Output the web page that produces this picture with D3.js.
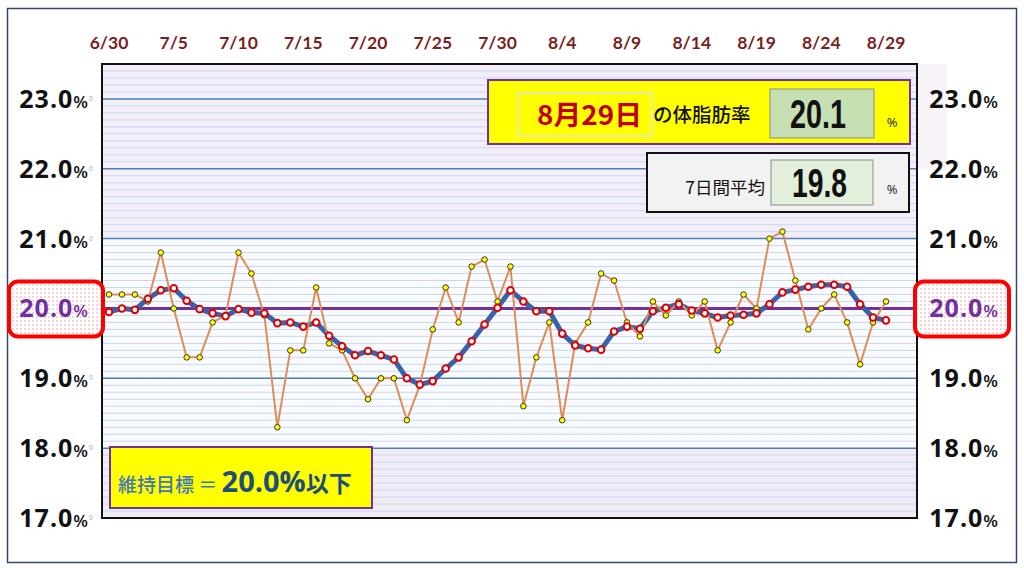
<!DOCTYPE html>
<html>
<head>
<meta charset="utf-8">
<script src="https://cdn.jsdelivr.net/npm/d3@7"></script>
<style>
  body { margin: 0; background: #fff; }
  svg { display: block; }
</style>
</head>
<body>
<svg id="chart" width="1024" height="568"></svg>
<script>
// ---- data ----
const startDate = [2021, 5, 30];   // 6/30
const dailyFat = [
  20.2, 20.2, 20.2, 20.1, 20.8, 20.0, 19.3, 19.3, 19.8, 19.9,
  20.8, 20.5, 19.9, 18.3, 19.4, 19.4, 20.3, 19.5, 19.4, 19.0,
  18.7, 19.0, 19.0, 18.4, 18.9, 19.7, 20.3, 19.8, 20.6, 20.7,
  20.1, 20.6, 18.6, 19.3, 19.8, 18.4, 19.5, 19.8, 20.5, 20.4,
  19.8, 19.6, 20.1, 19.9, 20.1, 19.9, 20.1, 19.4, 19.8, 20.2,
  20.0, 21.0, 21.1, 20.4, 19.7, 20.0, 20.2, 19.8, 19.2, 19.8,
  20.1
];
const weekAvg = [
  19.95, 20.00, 19.98, 20.14, 20.26, 20.29, 20.11, 19.99, 19.93, 19.89,
  19.99, 19.94, 19.93, 19.79, 19.80, 19.74, 19.80, 19.61, 19.46, 19.33,
  19.39, 19.33, 19.27, 19.00, 18.91, 18.96, 19.14, 19.30, 19.53, 19.77,
  20.01, 20.26, 20.10, 19.96, 19.96, 19.64, 19.47, 19.43, 19.41, 19.67,
  19.74, 19.71, 19.96, 20.01, 20.06, 19.97, 19.93, 19.87, 19.90, 19.91,
  19.93, 20.06, 20.23, 20.27, 20.31, 20.34, 20.34, 20.31, 20.06, 19.87,
  19.83
];
const dateTicks = ["6/30", "7/5", "7/10", "7/15", "7/20", "7/25", "7/30",
                   "8/4", "8/9", "8/14", "8/19", "8/24", "8/29"];
const yTicks = [23, 22, 21, 20, 19, 18, 17];
const goal = 20.0;

// ---- layout ----
const svg = d3.select("#chart");
const plot = { left: 102, right: 917, top: 64, bottom: 518 };

const day0 = new Date(startDate[0], startDate[1], startDate[2]);
const dates = dailyFat.map((d, i) => d3.timeDay.offset(day0, i));
const parseTick = s => { const [m, d] = s.split("/").map(Number); return new Date(startDate[0], m - 1, d); };

const x = d3.scaleTime()
  .domain(d3.extent(dates))
  .range([109, 886]);
const y = d3.scaleLinear()
  .domain([17, 23.5])
  .range([plot.bottom, plot.top]);

const defs = svg.append("defs");
const dots = defs.append("pattern").attr("id", "pinkdots")
  .attr("width", 4).attr("height", 4).attr("patternUnits", "userSpaceOnUse");
dots.append("rect").attr("width", 4).attr("height", 4).attr("fill", "#fff");
dots.append("circle").attr("cx", 1).attr("cy", 1).attr("r", 0.7).attr("fill", "#f08a8a");

// outer frame
svg.append("rect").attr("x", 7.5).attr("y", 8.5).attr("width", 1009).attr("height", 554)
  .attr("fill", "#fff").attr("stroke", "#34486b").attr("stroke-width", 1.5);

// pale strip right of the plot, behind the first info box
svg.append("rect").attr("x", plot.right).attr("y", plot.top).attr("width", 30).attr("height", y(22) - plot.top)
  .attr("fill", "#f8f2f9");

// plot background zones
const W = plot.right - plot.left;
svg.append("rect").attr("x", plot.left).attr("y", plot.top).attr("width", W).attr("height", plot.bottom - plot.top)
  .attr("fill", "#fafbfe");
svg.append("rect").attr("x", plot.left).attr("y", plot.top).attr("width", W).attr("height", y(21) - plot.top)
  .attr("fill", "#f3eef8");
svg.append("rect").attr("x", plot.left).attr("y", y(18)).attr("width", W).attr("height", plot.bottom - y(18))
  .attr("fill", "#f1ebf6");

// minor gridlines every 0.1
const minor = d3.range(170, 236).map(v => v / 10).filter(v => Math.abs(v - Math.round(v)) > 0.01);
svg.append("g").selectAll("line").data(minor).join("line")
  .attr("x1", plot.left).attr("x2", plot.right)
  .attr("y1", d => y(d)).attr("y2", d => y(d))
  .attr("stroke", "#c6d8ef").attr("stroke-width", 1);

// major gridlines
svg.append("g").selectAll("line").data(yTicks.filter(v => v > 17 && v !== goal)).join("line")
  .attr("x1", plot.left).attr("x2", plot.right)
  .attr("y1", d => y(d)).attr("y2", d => y(d))
  .attr("stroke", "#4a7ebb").attr("stroke-width", 1.5);

// goal line
svg.append("line")
  .attr("x1", plot.left).attr("x2", plot.right)
  .attr("y1", y(goal)).attr("y2", y(goal))
  .attr("stroke", "#7030a0").attr("stroke-width", 3);

// plot border
svg.append("rect").attr("x", plot.left).attr("y", plot.top).attr("width", W).attr("height", plot.bottom - plot.top)
  .attr("fill", "none").attr("stroke", "#111").attr("stroke-width", 2);

// date labels along the top
svg.append("g").selectAll("text").data(dateTicks).join("text")
  .attr("x", d => x(parseTick(d)))
  .attr("y", 49)
  .attr("text-anchor", "middle")
  .attr("font-family", "Lato, 'Open Sans', sans-serif")
  .attr("font-weight", 700).attr("font-size", 17.5)
  .attr("fill", "#7a1f1f")
  .text(d => d);

// y labels, both sides
const fmt = d3.format(".1f");
["left", "right"].forEach(side => {
  const g = svg.append("g");
  yTicks.forEach(v => {
    if (v === goal) {
      const bx = side === "left" ? 9 : 915;
      g.append("rect").attr("x", bx).attr("y", y(goal) - 27).attr("width", 94).attr("height", 55)
        .attr("rx", 9).attr("fill", "url(#pinkdots)").attr("stroke", "#ff0000").attr("stroke-width", 4);
    }
    const t = g.append("text")
      .attr("x", side === "left" ? 88 : 998)
      .attr("y", y(v) + 9)
      .attr("text-anchor", "end")
      .attr("font-family", "'Open Sans', sans-serif")
      .attr("fill", v === goal ? "#7030a0" : "#111");
    t.append("tspan").attr("font-size", 25).attr("font-weight", 700).attr("letter-spacing", 1).text(fmt(v));
    t.append("tspan").attr("font-size", 17).attr("font-weight", 600).text("%");
    if (side === "left" && v !== goal) {
      g.append("text").attr("x", 89).attr("y", y(v) + 2).attr("font-size", 7)
        .attr("font-family", "'Open Sans', sans-serif").attr("fill", "#aaa").text("0");
    }
  });
});

// series
const pts = (arr) => arr.map((v, i) => [x(dates[i]), y(v)]);
const line = d3.line();

svg.append("path").attr("d", line(pts(weekAvg)))
  .attr("fill", "none").attr("stroke", "#3a62ab").attr("stroke-width", 5)
  .attr("stroke-linejoin", "round").attr("stroke-linecap", "round");

svg.append("path").attr("d", line(pts(dailyFat)))
  .attr("fill", "none").attr("stroke", "#e08c55").attr("stroke-width", 2)
  .attr("stroke-linejoin", "round");

svg.append("g").selectAll("circle").data(dailyFat).join("circle")
  .attr("cx", (d, i) => x(dates[i])).attr("cy", d => y(d))
  .attr("r", 2.8).attr("fill", "#ffff00").attr("stroke", "#333").attr("stroke-width", 1);

svg.append("g").selectAll("circle").data(weekAvg).join("circle")
  .attr("cx", (d, i) => x(dates[i])).attr("cy", d => y(d))
  .attr("r", 3.3).attr("fill", "#fff").attr("stroke", "#e00000").attr("stroke-width", 2);

// ---- info boxes ----
const last = dailyFat.length - 1;
const jp = "'Noto Sans CJK JP', sans-serif";
const num = "'Liberation Sans', Arial, sans-serif";

const b1 = svg.append("g");
b1.append("rect").attr("x", 488).attr("y", 80).attr("width", 422).attr("height", 64)
  .attr("fill", "#ffff00").attr("stroke", "#7030a0").attr("stroke-width", 2);
b1.append("rect").attr("x", 518).attr("y", 93).attr("width", 134).attr("height", 43)
  .attr("fill", "#ffff00").attr("stroke", "#dde3e8").attr("stroke-width", 1.5);
b1.append("text").attr("x", 537).attr("y", 125)
  .attr("font-family", jp).attr("font-weight", 700).attr("font-size", 27).attr("fill", "#c00000")
  .attr("textLength", 105).attr("lengthAdjust", "spacingAndGlyphs")
  .text(d3.timeFormat("%-m月%-d日")(dates[last]));
b1.append("text").attr("x", 653).attr("y", 122)
  .attr("font-family", jp).attr("font-weight", 500).attr("font-size", 19.5).attr("fill", "#111")
  .text("の体脂肪率");
b1.append("rect").attr("x", 770).attr("y", 89).attr("width", 104).attr("height", 49)
  .attr("fill", "#c6e0b4").attr("stroke", "#8c8c8c").attr("stroke-width", 1);
b1.append("text").attr("x", 790).attr("y", 128)
  .attr("font-family", num).attr("font-weight", 700).attr("font-size", 40).attr("fill", "#111")
  .attr("textLength", 56).attr("lengthAdjust", "spacingAndGlyphs")
  .text(fmt(dailyFat[last]));
b1.append("text").attr("x", 892).attr("y", 127).attr("text-anchor", "middle")
  .attr("font-family", "'Open Sans', sans-serif").attr("font-size", 13).attr("fill", "#222").text("%");

const b2 = svg.append("g");
b2.append("rect").attr("x", 647).attr("y", 153).attr("width", 262).attr("height", 59)
  .attr("fill", "#f2f2f2").attr("stroke", "#111").attr("stroke-width", 2);
b2.append("text").attr("x", 765).attr("y", 194).attr("text-anchor", "end")
  .attr("font-family", jp).attr("font-size", 17.5).attr("fill", "#111").text("7日間平均");
b2.append("rect").attr("x", 771).attr("y", 160).attr("width", 102).attr("height", 45)
  .attr("fill", "#e2efda").attr("stroke", "#8c8c8c").attr("stroke-width", 1);
b2.append("text").attr("x", 792).attr("y", 197)
  .attr("font-family", num).attr("font-weight", 700).attr("font-size", 40).attr("fill", "#111")
  .attr("textLength", 55).attr("lengthAdjust", "spacingAndGlyphs")
  .text(fmt(weekAvg[last]));
b2.append("text").attr("x", 892).attr("y", 194).attr("text-anchor", "middle")
  .attr("font-family", "'Open Sans', sans-serif").attr("font-size", 13).attr("fill", "#222").text("%");

// goal box bottom left
const b3 = svg.append("g");
b3.append("rect").attr("x", 110).attr("y", 447).attr("width", 262).attr("height", 61)
  .attr("fill", "#ffff00").attr("stroke", "#7030a0").attr("stroke-width", 2);
const gt = b3.append("text").attr("x", 118).attr("y", 492).attr("font-family", jp);
gt.append("tspan").attr("font-size", 19).attr("font-weight", 500).attr("fill", "#3f78b4").text("維持目標 ＝ ");
gt.append("tspan").attr("font-family", "'Open Sans', sans-serif").attr("font-size", 29).attr("font-weight", 700)
  .attr("fill", "#1f4e79").text(fmt(goal) + "%");
gt.append("tspan").attr("font-size", 23).attr("font-weight", 700).attr("fill", "#1f4e79").text("以下");
</script>
</body>
</html>
